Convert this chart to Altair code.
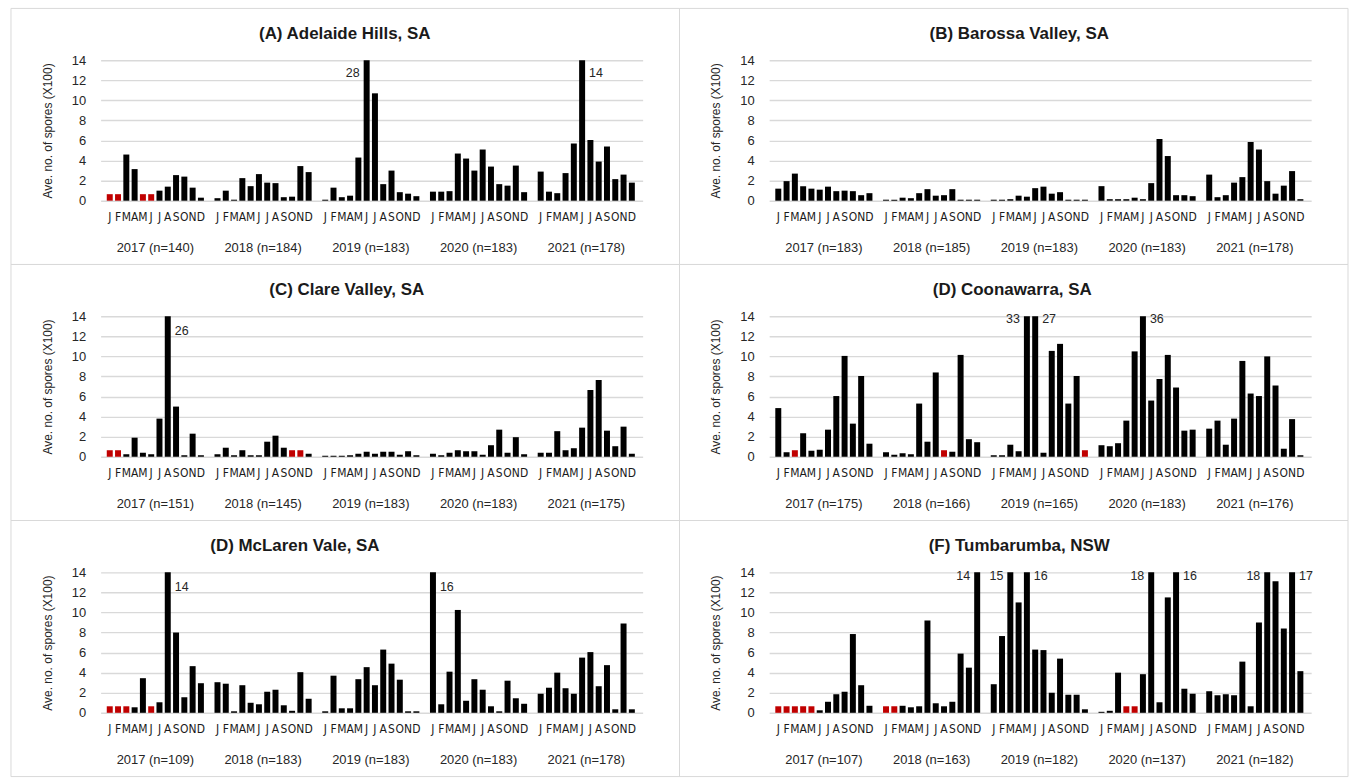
import altair as alt
import pandas as pd

# Monthly average spore counts (x100) per region, 2017-2021.
# None marks a month that was not sampled (drawn as a short red bar).
MONTHS = ["J", "F", "M", "A", "M", "J", "J", "A", "S", "O", "N", "D"]
YEARS = [2017, 2018, 2019, 2020, 2021]
UNSAMPLED_HEIGHT = 0.65
R = None

adelaide_hills = [
    [R, R, 4.6, 3.15, R, R, 1.0, 1.4, 2.55, 2.4, 1.3, 0.3],
    [0.25, 1.0, 0.1, 2.25, 1.45, 2.65, 1.8, 1.75, 0.35, 0.4, 3.45, 2.85],
    [0.1, 1.3, 0.35, 0.5, 4.3, 28, 10.7, 1.65, 3.0, 0.85, 0.7, 0.45],
    [0.9, 0.9, 0.95, 4.7, 4.2, 3.0, 5.1, 3.4, 1.65, 1.5, 3.5, 0.85],
    [2.9, 0.9, 0.75, 2.75, 5.7, 14, 6.05, 3.9, 5.4, 2.15, 2.6, 1.8],
]
barossa_valley = [
    [1.2, 1.95, 2.7, 1.45, 1.2, 1.1, 1.4, 0.95, 1.0, 0.95, 0.55, 0.75],
    [0.1, 0.1, 0.3, 0.25, 0.75, 1.15, 0.5, 0.55, 1.15, 0.1, 0.1, 0.1],
    [0.1, 0.1, 0.15, 0.5, 0.4, 1.25, 1.4, 0.7, 0.85, 0.1, 0.1, 0.1],
    [1.45, 0.15, 0.15, 0.15, 0.3, 0.15, 1.75, 6.15, 4.45, 0.55, 0.55, 0.45],
    [2.6, 0.35, 0.55, 1.8, 2.35, 5.85, 5.1, 1.95, 0.7, 1.5, 2.95, 0.15],
]
clare_valley = [
    [R, R, 0.25, 1.9, 0.4, 0.25, 3.8, 26, 5.0, 0.15, 2.3, 0.15],
    [0.25, 0.9, 0.15, 0.65, 0.15, 0.15, 1.5, 2.1, 0.9, R, R, 0.3],
    [0.1, 0.1, 0.1, 0.15, 0.3, 0.5, 0.3, 0.5, 0.5, 0.2, 0.55, 0.15],
    [0.3, 0.15, 0.4, 0.65, 0.55, 0.55, 0.2, 1.15, 2.7, 0.4, 1.95, 0.25],
    [0.4, 0.4, 2.55, 0.65, 0.85, 2.9, 6.65, 7.65, 2.6, 1.05, 3.0, 0.3],
]
coonawarra = [
    [4.85, 0.45, R, 2.35, 0.6, 0.7, 2.7, 6.05, 10.05, 3.3, 8.05, 1.3],
    [0.45, 0.2, 0.35, 0.25, 5.3, 1.5, 8.4, R, 0.5, 10.15, 1.75, 1.45],
    [0.15, 0.15, 1.2, 0.55, 33, 27, 0.4, 10.55, 11.25, 5.3, 8.05, R],
    [1.15, 1.05, 1.35, 3.6, 10.5, 36, 5.6, 7.75, 10.15, 6.9, 2.6, 2.7],
    [2.8, 3.6, 1.2, 3.8, 9.55, 6.3, 6.05, 10.0, 7.1, 0.8, 3.75, 0.15],
]
mclaren_vale = [
    [R, R, R, 0.55, 3.45, R, 1.05, 14, 8.0, 1.55, 4.65, 2.95],
    [3.05, 2.9, 0.15, 2.75, 1.0, 0.85, 2.1, 2.3, 0.75, 0.2, 4.05, 1.4],
    [0.15, 3.7, 0.45, 0.45, 3.35, 4.55, 2.75, 6.3, 4.9, 3.3, 0.15, 0.15],
    [16, 0.85, 4.1, 10.25, 1.2, 3.35, 2.3, 0.65, 0.15, 3.2, 1.45, 0.9],
    [1.9, 2.5, 4.0, 2.45, 1.9, 5.5, 6.05, 2.65, 4.75, 0.35, 8.9, 0.35],
]
tumbarumba = [
    [R, R, R, R, R, 0.25, 1.1, 1.85, 2.1, 7.85, 2.75, 0.7],
    [R, R, 0.7, 0.55, 0.65, 9.2, 0.95, 0.65, 1.1, 5.9, 4.5, 14],
    [2.85, 7.65, 15, 11.0, 16, 6.3, 6.25, 2.0, 5.4, 1.8, 1.8, 0.35],
    [0.1, 0.2, 4.0, R, R, 3.85, 18, 1.05, 11.5, 16, 2.4, 1.9],
    [2.15, 1.75, 1.85, 1.75, 5.1, 0.65, 9.0, 18, 13.1, 8.4, 17, 4.15],
]

# Number of samples per year, per region
n_adelaide = [140, 184, 183, 183, 178]
n_barossa = [183, 185, 183, 183, 178]
n_clare = [151, 145, 183, 183, 175]
n_coonawarra = [175, 166, 165, 183, 176]
n_mclaren = [109, 183, 183, 183, 178]
n_tumbarumba = [107, 163, 182, 137, 182]

# Which side of an off-scale bar its value is written on: (year, month index) -> side
sides_adelaide = {(2019, 5): "left", (2021, 5): "right"}
sides_clare = {(2017, 7): "right"}
sides_coonawarra = {(2019, 4): "left", (2019, 5): "right", (2020, 5): "right"}
sides_mclaren = {(2017, 7): "right", (2020, 0): "right"}
sides_tumbarumba = {(2018, 11): "left", (2019, 2): "left", (2019, 4): "right",
                    (2020, 6): "left", (2020, 9): "right",
                    (2021, 7): "left", (2021, 10): "right"}

W, H = 544, 141
YMAX = 14
SLOTS_PER_YEAR = 13  # 12 months plus one empty slot between years
X_DOMAIN = [-0.5, 63.7]
TEXT_FONT = "Liberation Sans, Arial, sans-serif"
MONTH_FONT = "Liberation Sans Narrow, Arial Narrow, DejaVu Sans Condensed, Liberation Sans, sans-serif"
INK = "#262626"

x_scale = alt.Scale(domain=X_DOMAIN, nice=False, zero=False)


def panel(title, values, counts, sides, title_x, label_y):
    rows = []
    for yi, yr in enumerate(YEARS):
        for mi, v in enumerate(values[yi]):
            sampled = v is not None
            side = sides.get((yr, mi), "")
            rows.append({
                "slot": yi * SLOTS_PER_YEAR + mi,
                "year": yr,
                "month": MONTHS[mi],
                "value": v if sampled else UNSAMPLED_HEIGHT,
                "sampled": "yes" if sampled else "no",
                "side": side,
                "label": f"{v:g}" if side else "",
            })
    df = pd.DataFrame(rows)
    x_enc = alt.X("slot:Q", scale=x_scale, axis=None)

    frame = alt.Chart(pd.DataFrame({"k": [0]})).mark_rect(
        fill="white", fillOpacity=0, stroke="#d9d9d9", strokeWidth=1
    ).encode(
        x=alt.value(-90), x2=alt.value(W + 37),
        y=alt.value(-52), y2=alt.value(H + 64),
    )

    bars = alt.Chart(df).mark_bar(size=6).encode(
        x=x_enc,
        y=alt.Y(
            "value:Q",
            scale=alt.Scale(domain=[0, YMAX], clamp=True, nice=False, zero=True),
            axis=alt.Axis(
                values=list(range(0, YMAX + 1, 2)), title="Ave. no. of spores (X100)",
                grid=True, gridColor="#d9d9d9", gridWidth=1.4, domain=False,
                ticks=False, labelPadding=15, labelFont=TEXT_FONT, labelFontSize=13,
                labelColor=INK, titleFont=TEXT_FONT, titleFontSize=12,
                titleFontWeight="normal", titleColor=INK, titlePadding=17,
            ),
        ),
        y2=alt.datum(0),
        color=alt.Color(
            "sampled:N",
            scale=alt.Scale(domain=["yes", "no"], range=["#000000", "#c00000"]),
            legend=None,
        ),
    )

    # month initials under each bar
    months = alt.Chart(df).mark_text(
        baseline="middle", align="center", font=MONTH_FONT, fontSize=12,
        color="#1a1a1a",
    ).encode(x=x_enc, y=alt.value(H + 16), text="month:N")

    left_labels = alt.Chart(df).transform_filter(
        alt.datum.side == "left"
    ).mark_text(
        align="right", baseline="middle", dx=-7, font=TEXT_FONT, fontSize=12.5,
        color=INK,
    ).encode(x=x_enc, y=alt.value(label_y), text="label:N")

    right_labels = alt.Chart(df).transform_filter(
        alt.datum.side == "right"
    ).mark_text(
        align="left", baseline="middle", dx=7, font=TEXT_FONT, fontSize=12.5,
        color=INK,
    ).encode(x=x_enc, y=alt.value(label_y), text="label:N")

    year_df = pd.DataFrame({
        "center": [yi * SLOTS_PER_YEAR + 5.5 for yi in range(len(YEARS))],
        "text": [f"{yr} (n={n})" for yr, n in zip(YEARS, counts)],
    })
    years = alt.Chart(year_df).mark_text(
        baseline="middle", align="center", font=TEXT_FONT, fontSize=13, color=INK
    ).encode(
        x=alt.X("center:Q", scale=x_scale, axis=None),
        y=alt.value(H + 47),
        text="text:N",
    )

    heading = alt.Chart(pd.DataFrame({"t": [title]})).mark_text(
        baseline="middle", align="center", font=TEXT_FONT, fontSize=17,
        fontWeight="bold", color="#1a1a1a",
    ).encode(x=alt.value(title_x), y=alt.value(-26), text="t:N")

    return alt.layer(
        frame, bars, months, left_labels, right_labels, years, heading
    ).properties(width=W, height=H)


panels = [
    panel("(A) Adelaide Hills, SA", adelaide_hills, n_adelaide, sides_adelaide, 245, 13),
    panel("(B) Barossa Valley, SA", barossa_valley, n_barossa, {}, 251, 13),
    panel("(C) Clare Valley, SA", clare_valley, n_clare, sides_clare, 247, 15),
    panel("(D) Coonawarra, SA", coonawarra, n_coonawarra, sides_coonawarra, 244, 3),
    panel("(D) McLaren Vale, SA", mclaren_vale, n_mclaren, sides_mclaren, 195, 15),
    panel("(F) Tumbarumba, NSW", tumbarumba, n_tumbarumba, sides_tumbarumba, 251, 4),
]

chart = alt.concat(
    *panels, columns=2, spacing={"row": 116, "column": 127}, bounds="flush"
).properties(
    padding={"left": 10, "top": 6, "right": 5, "bottom": 0},
    background="white",
).configure_view(stroke=None)

chart.save("out.html", embed_options={"renderer": "svg", "actions": False})
